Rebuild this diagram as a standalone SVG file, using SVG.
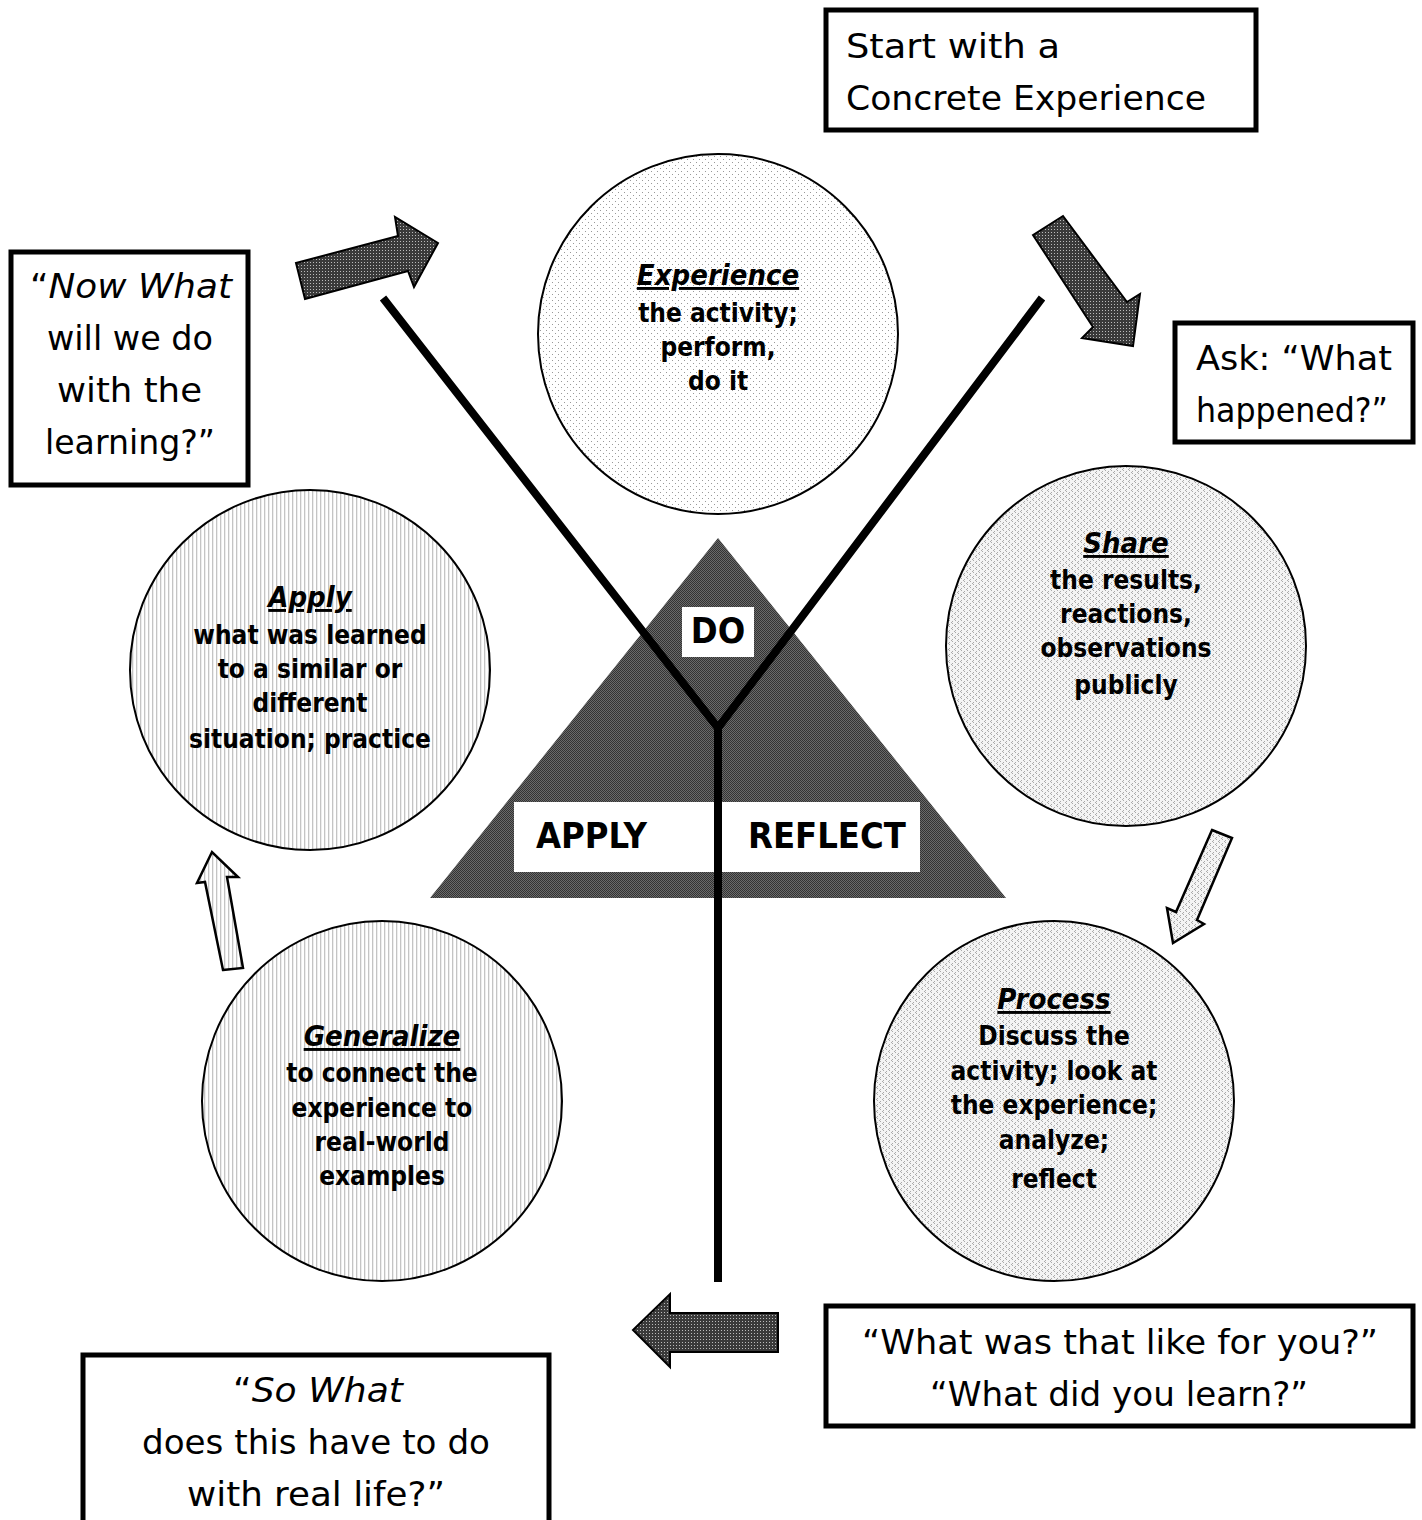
<svg xmlns="http://www.w3.org/2000/svg" width="1422" height="1520" viewBox="0 0 1422 1520">
<defs>
<pattern id="pDots" width="6" height="6" patternUnits="userSpaceOnUse">
<rect width="6" height="6" fill="#fff"/>
<rect x="0" y="0" width="1" height="1" fill="#999"/>
<rect x="3" y="3" width="1" height="1" fill="#999"/>
</pattern>
<pattern id="pChk" width="6" height="6" patternUnits="userSpaceOnUse">
<rect width="6" height="6" fill="#f4f4f4"/>
<rect x="1" y="0" width="1" height="1" fill="#aaa"/>
<rect x="0" y="1" width="1" height="1" fill="#aaa"/>
<rect x="1" y="2" width="1" height="1" fill="#aaa"/>
<rect x="4" y="3" width="1" height="1" fill="#aaa"/>
<rect x="3" y="4" width="1" height="1" fill="#aaa"/>
<rect x="4" y="5" width="1" height="1" fill="#aaa"/>
</pattern>
<pattern id="pVert" width="4" height="4" patternUnits="userSpaceOnUse">
<rect width="4" height="4" fill="#fff"/>
<rect x="0" y="0" width="1.3" height="4" fill="#c4c4c4"/>
</pattern>
<pattern id="pDark" width="2" height="2" patternUnits="userSpaceOnUse">
<rect width="2" height="2" fill="#6a6a6a"/>
<rect x="0" y="0" width="1" height="1" fill="#333"/>
<rect x="1" y="1" width="1" height="1" fill="#333"/>
</pattern>
<pattern id="pArrow" width="3" height="3" patternUnits="userSpaceOnUse">
<rect width="3" height="3" fill="#3a3a3a"/>
<rect x="1" y="1" width="1" height="1" fill="#bbb"/>
</pattern>
<style>
.box{fill:#fff;stroke:#000;stroke-width:5}
.circ{stroke:#000;stroke-width:2}
.bt{font-family:"DejaVu Sans","Liberation Sans",sans-serif;font-size:34px;fill:#000}
.ct{font-family:"DejaVu Sans Condensed","DejaVu Sans",sans-serif;font-weight:bold;font-size:26px;fill:#000;text-anchor:middle}
.ch{font-style:italic;font-size:29px;text-decoration:underline}
.tl{font-family:"DejaVu Sans Condensed","DejaVu Sans",sans-serif;font-weight:bold;font-size:36px;fill:#000}
.big{fill:url(#pArrow);stroke:#000;stroke-width:2}
.small{stroke:#000;stroke-width:2.5}
</style>
</defs>
<rect width="1422" height="1520" fill="#fff"/>

<g id="triangle">
<polygon points="718,538 1006,898 430,898" fill="url(#pDark)"/>
<rect x="682" y="607" width="72" height="50" fill="#fff"/>
<rect x="514" y="802" width="406" height="70" fill="#fff"/>
<text class="tl" x="718" y="643" text-anchor="middle">DO</text>
<text class="tl" x="536" y="848">APPLY</text>
<text class="tl" x="748" y="848">REFLECT</text>
</g>

<g id="connectors">
<polyline points="383,298 718,728 1042,298" fill="none" stroke="#000" stroke-width="8" stroke-linejoin="miter"/>
<line x1="718" y1="726" x2="718" y2="1282" stroke="#000" stroke-width="8"/>
<polygon class="big" points="296,263 398,236 395,217 438,243 414,287 408,271 305,299"/>
<polygon class="big" points="1033,235 1063,216 1127,302 1140,294 1133,346 1082,338 1093,327"/>
<polygon class="big" points="778,1313 670,1313 670,1294 633,1330 670,1367 670,1352 778,1352"/>
<polygon class="small" fill="url(#pChk)" points="1212,830 1232,838 1197,920 1204,924 1173,943 1167,908 1176,912"/>
<polygon class="small" fill="url(#pVert)" points="223,970 243,968 227,877 238,877 212,852 197,883 205,882"/>
</g>

<g id="box-start">
<rect class="box" x="826" y="10" width="430" height="120"/>
<text class="bt" x="846" y="58" textLength="214" lengthAdjust="spacingAndGlyphs">Start with a</text>
<text class="bt" x="846" y="110" textLength="360" lengthAdjust="spacingAndGlyphs">Concrete Experience</text>
</g>

<g id="box-ask">
<rect class="box" x="1175" y="323" width="238" height="119"/>
<text class="bt" x="1196" y="370" textLength="196" lengthAdjust="spacingAndGlyphs">Ask: “What</text>
<text class="bt" x="1196" y="422" textLength="192" lengthAdjust="spacingAndGlyphs">happened?”</text>
</g>

<g id="box-now">
<rect class="box" x="11" y="252" width="237" height="233"/>
<text class="bt" x="30" y="298" textLength="202" lengthAdjust="spacingAndGlyphs">“<tspan font-style="italic">Now What</tspan></text>
<text class="bt" x="47" y="350" textLength="166" lengthAdjust="spacingAndGlyphs">will we do</text>
<text class="bt" x="57" y="402" textLength="145" lengthAdjust="spacingAndGlyphs">with the</text>
<text class="bt" x="45" y="454" textLength="170" lengthAdjust="spacingAndGlyphs">learning?”</text>
</g>

<g id="box-sowhat">
<rect class="box" x="83" y="1355" width="466" height="175"/>
<text class="bt" x="233" y="1402" textLength="170" lengthAdjust="spacingAndGlyphs">“<tspan font-style="italic">So What</tspan></text>
<text class="bt" x="142" y="1454" textLength="348" lengthAdjust="spacingAndGlyphs">does this have to do</text>
<text class="bt" x="187" y="1506" textLength="258" lengthAdjust="spacingAndGlyphs">with real life?”</text>
</g>

<g id="box-what">
<rect class="box" x="826" y="1306" width="587" height="120"/>
<text class="bt" x="862" y="1354" textLength="516" lengthAdjust="spacingAndGlyphs">“What was that like for you?”</text>
<text class="bt" x="930" y="1406" textLength="378" lengthAdjust="spacingAndGlyphs">“What did you learn?”</text>
</g>

<g id="circle-experience">
<circle class="circ" cx="718" cy="334" r="180" fill="url(#pDots)"/>
<text class="ct ch" x="718" y="285">Experience</text>
<text class="ct" x="718" y="322">the activity;</text>
<text class="ct" x="718" y="356">perform,</text>
<text class="ct" x="718" y="390">do it</text>
</g>

<g id="circle-share">
<circle class="circ" cx="1126" cy="646" r="180" fill="url(#pChk)"/>
<text class="ct ch" x="1126" y="553">Share</text>
<text class="ct" x="1126" y="589">the results,</text>
<text class="ct" x="1126" y="623">reactions,</text>
<text class="ct" x="1126" y="657">observations</text>
<text class="ct" x="1126" y="694">publicly</text>
</g>

<g id="circle-process">
<circle class="circ" cx="1054" cy="1101" r="180" fill="url(#pChk)"/>
<text class="ct ch" x="1054" y="1009">Process</text>
<text class="ct" x="1054" y="1045">Discuss the</text>
<text class="ct" x="1054" y="1080">activity; look at</text>
<text class="ct" x="1054" y="1114">the experience;</text>
<text class="ct" x="1054" y="1149">analyze;</text>
<text class="ct" x="1054" y="1188">reflect</text>
</g>

<g id="circle-generalize">
<circle class="circ" cx="382" cy="1101" r="180" fill="url(#pVert)"/>
<text class="ct ch" x="382" y="1046">Generalize</text>
<text class="ct" x="382" y="1082">to connect the</text>
<text class="ct" x="382" y="1117">experience to</text>
<text class="ct" x="382" y="1151">real-world</text>
<text class="ct" x="382" y="1185">examples</text>
</g>

<g id="circle-apply">
<circle class="circ" cx="310" cy="670" r="180" fill="url(#pVert)"/>
<text class="ct ch" x="310" y="607">Apply</text>
<text class="ct" x="310" y="644">what was learned</text>
<text class="ct" x="310" y="678">to a similar or</text>
<text class="ct" x="310" y="712">different</text>
<text class="ct" x="310" y="748">situation; practice</text>
</g>
</svg>
